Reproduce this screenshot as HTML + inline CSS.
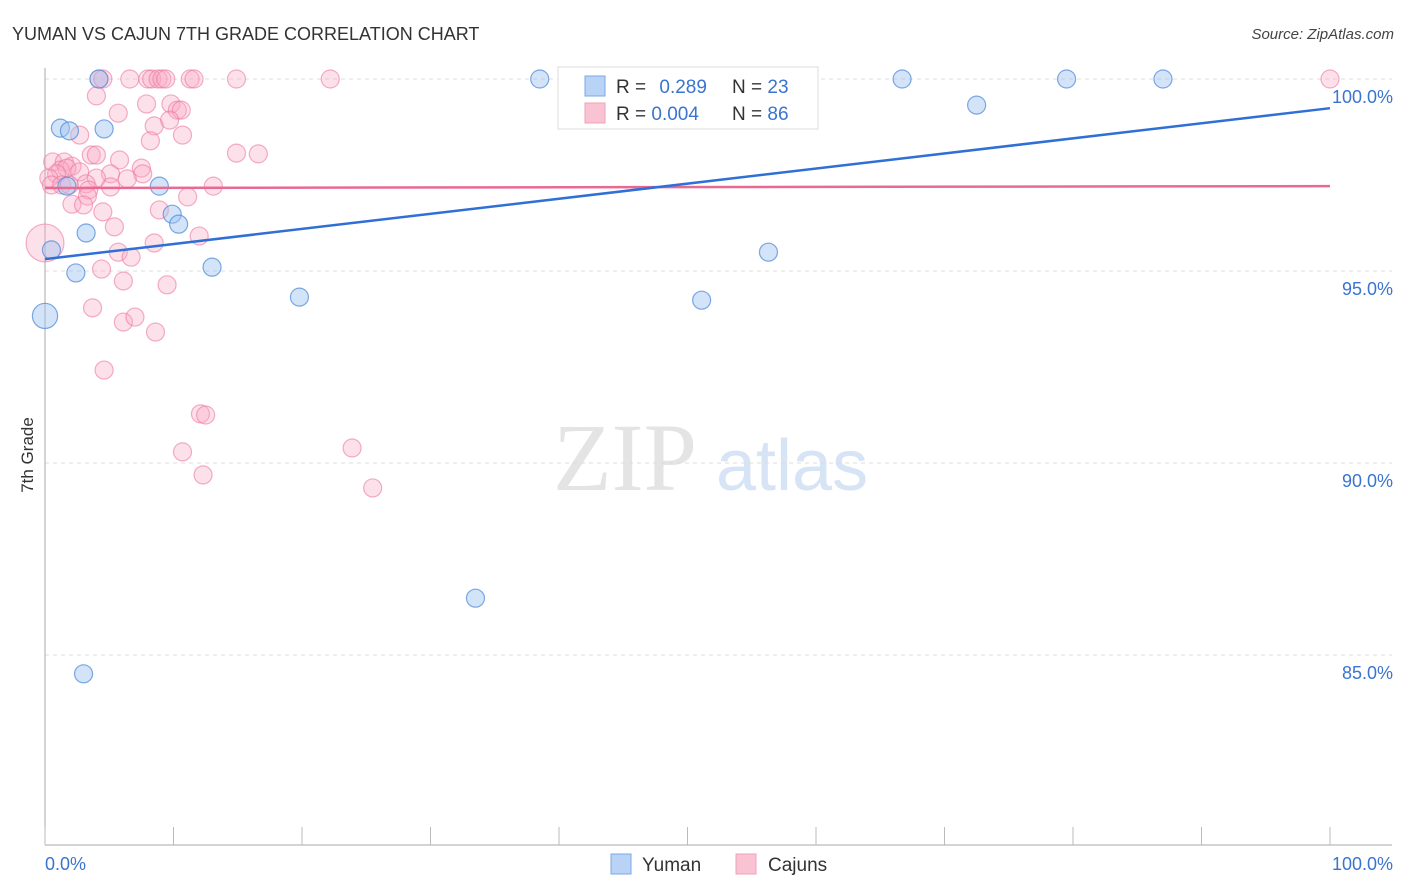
<!DOCTYPE html>
<html><head><meta charset="utf-8"><style>
body{margin:0;background:#fff;font-family:"Liberation Sans",sans-serif;}
svg{display:block}
</style></head><body>
<svg id="c" width="1406" height="892">
<text x="12" y="40" font-size="18" fill="#333">YUMAN VS CAJUN 7TH GRADE CORRELATION CHART</text>
<text x="1394" y="39" font-size="15" fill="#444" font-style="italic" text-anchor="end">Source: ZipAtlas.com</text>
<text transform="translate(33,455) rotate(-90)" font-size="17" fill="#333" text-anchor="middle">7th Grade</text>
<g>
<text x="553" y="490" font-family="Liberation Serif,serif" font-size="96" fill="#e4e4e4">ZIP</text>
<text x="716" y="490" font-size="72" fill="#d6e4f6">atlas</text>
</g>
<g id="grid"></g><g id="axes"></g><g id="pts"></g><g id="lines"></g>
<g>
<rect x="558" y="67" width="260" height="62" fill="#fff" stroke="#ddd"/>
<rect x="585" y="76" width="20" height="20" fill="#b8d3f5" stroke="#7aa8e6"/>
<rect x="585" y="103" width="20" height="20" fill="#f9c3d4" stroke="#f0a0ba"/>
<text x="616" y="93" font-size="19" fill="#333">R = <tspan fill="#3a74d0" dx="8">0.289</tspan></text>
<text x="732" y="93" font-size="19" fill="#333">N = <tspan fill="#3a74d0">23</tspan></text>
<text x="616" y="120" font-size="19" fill="#333">R = <tspan fill="#3a74d0">0.004</tspan></text>
<text x="732" y="120" font-size="19" fill="#333">N = <tspan fill="#3a74d0">86</tspan></text>
</g>
<g>
<rect x="611" y="854" width="20" height="20" fill="#b8d3f5" stroke="#7aa8e6"/>
<text x="642" y="871" font-size="19" fill="#333">Yuman</text>
<rect x="736" y="854" width="20" height="20" fill="#f9c3d4" stroke="#f0a0ba"/>
<text x="768" y="871" font-size="19" fill="#333">Cajuns</text>
</g>
</svg>
<script>
const yTicks=[100,95,90,85];
const yTickLabels=["100.0%","95.0%","90.0%","85.0%"];
const xTickLabels=["0.0%","100.0%"];
const yumanX=[4.2,38.5,66.7,79.5,87.0,72.5,1.2,1.9,4.6,8.9,1.7,9.9,10.4,3.2,0.5,56.3,13.0,2.4,19.8,51.1,0,33.5,3.0];
const yumanY=[100,100,100,100,100,99.32,98.72,98.65,98.70,97.21,97.21,96.48,96.22,95.99,95.55,95.49,95.10,94.95,94.32,94.24,93.83,86.48,84.51];
const cajunX=[4.2,4.5,6.6,8.0,8.3,8.8,9.1,9.4,11.3,11.6,14.9,22.2,100,4.0,7.9,5.7,9.8,10.3,10.6,2.7,8.5,9.7,10.7,8.2,14.9,16.6,3.6,4.0,5.8,0.6,1.5,2.1,1.2,1.7,7.5,7.6,5.1,6.4,0.9,2.7,0.3,4.0,0.5,1.3,1.9,3.2,3.4,5.1,13.1,3.3,11.1,2.1,3.0,4.5,8.9,5.4,12.0,8.5,0,5.7,6.7,4.4,6.1,9.5,3.7,6.1,7.0,8.6,4.6,12.1,12.5,23.9,10.7,12.3,25.5];
const cajunY=[100,100,100,100,100,100,100,100,100,100,100,100,100,99.56,99.35,99.11,99.35,99.19,99.19,98.54,98.78,98.93,98.54,98.39,98.07,98.05,98.02,98.02,97.89,97.84,97.84,97.73,97.63,97.68,97.68,97.53,97.53,97.40,97.53,97.58,97.42,97.42,97.24,97.24,97.24,97.27,97.11,97.19,97.21,96.95,96.93,96.74,96.72,96.54,96.59,96.15,95.91,95.73,95.73,95.49,95.36,95.05,94.74,94.64,94.04,93.67,93.80,93.41,92.42,91.28,91.25,90.39,90.29,89.69,89.35];
const yumanBig={20:1.4};
const cajunBig={58:2.1};
const yumanTrend=[95.31,99.24];
const cajunTrend=[97.16,97.21];
const NS="http://www.w3.org/2000/svg";
const X=v=>45+v*12.85, Y=v=>79+(100-v)*38.4;
function mk(t,a,p){const e=document.createElementNS(NS,t);for(const k in a)e.setAttribute(k,a[k]);p.appendChild(e);return e;}
const grid=document.getElementById('grid'),axes=document.getElementById('axes'),pts=document.getElementById('pts'),lines=document.getElementById('lines');
yTicks.forEach((t,i)=>{
 const l=mk('line',{x1:45,x2:1392,y1:Y(t),y2:Y(t),stroke:'#ddd','stroke-dasharray':'4,4'},grid);
 
 
 const tx=mk('text',{x:1393,y:Y(t)+24,'font-size':18,fill:'#3a74d0','text-anchor':'end'},axes);
 tx.textContent=yTickLabels[i];
 
 
});
let a=mk('line',{x1:45,x2:45,y1:68,y2:845,stroke:'#aaa'},axes);


a=mk('line',{x1:45,x2:1392,y1:845,y2:845,stroke:'#aaa'},axes);


for(let i=0;i<=10;i++){const t=mk('line',{x1:X(i*10),x2:X(i*10),y1:827,y2:845,stroke:'#bbb'},axes);
 
 }
let t1=mk('text',{x:45,y:870,'font-size':18,fill:'#3a74d0'},axes);t1.textContent=xTickLabels[0];


t1=mk('text',{x:1393,y:870,'font-size':18,fill:'#3a74d0','text-anchor':'end'},axes);t1.textContent=xTickLabels[1];


cajunX.forEach((x,i)=>{const c=mk('circle',{cx:X(x),cy:Y(cajunY[i]),r:9*(cajunBig[i]||1),fill:'rgba(248,170,195,0.35)',stroke:'rgba(236,120,160,0.6)','stroke-width':1.2},pts);
 
 });
yumanX.forEach((x,i)=>{const c=mk('circle',{cx:X(x),cy:Y(yumanY[i]),r:9*(yumanBig[i]||1),fill:'rgba(160,196,240,0.45)',stroke:'rgba(80,140,220,0.75)','stroke-width':1.2},pts);
 
 });
let ln=mk('line',{x1:X(0),x2:X(100),y1:Y(cajunTrend[0]),y2:Y(cajunTrend[1]),stroke:'#e86a92','stroke-width':2.5},lines);


ln=mk('line',{x1:X(0),x2:X(100),y1:Y(yumanTrend[0]),y2:Y(yumanTrend[1]),stroke:'#2f6fd6','stroke-width':2.5},lines);


</script>
</body></html>
